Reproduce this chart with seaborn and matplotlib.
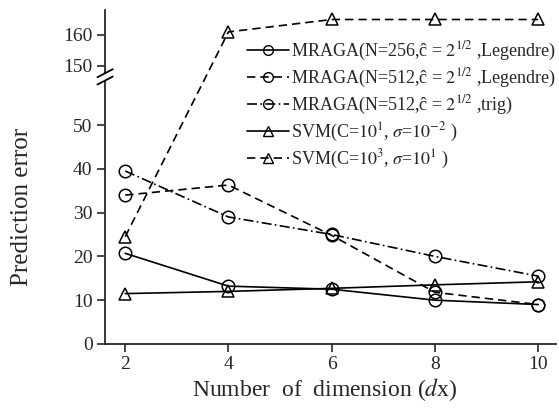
"""Prediction error vs. number of dimension, with a broken y axis."""

import matplotlib

matplotlib.use("Agg")

import matplotlib.pyplot as plt
import numpy as np
import pandas as pd
import seaborn as sns
from matplotlib.lines import Line2D


dimensions = [2, 4, 6, 8, 10]
mraga_256_legendre = [20.7, 13.2, 12.5, 10.0, 9.0]
mraga_512_legendre = [34.0, 36.3, 24.8, 11.8, 9.0]
mraga_512_trig = [39.5, 29.0, 25.0, 20.0, 15.5]
svm_c1 = [11.5, 12.0, 12.7, 13.5, 14.2]
svm_c3 = [24.5, 161.0, 165.0, 165.0, 165.0]

series_labels = [
    r"MRAGA(N=256,ĉ = $2^{1/2}$ ,Legendre)",
    r"MRAGA(N=512,ĉ = $2^{1/2}$ ,Legendre)",
    r"MRAGA(N=512,ĉ = $2^{1/2}$ ,trig)",
    r"SVM(C=$10^{1}$, $\sigma$=$10^{-2}$ )",
    r"SVM(C=$10^{3}$, $\sigma$=$10^{1}$ )",
]
y_ticks = [0, 10, 20, 30, 40, 50, 150, 160]

# broken axis: 0-61 on the lower part, 146.5-168 squeezed on the upper part
LOW_TOP = 61.0
HIGH_BOTTOM = 146.5
UPPER_RATIO = 0.708
GAP = 0.01


def forward(y):
    y = np.asarray(y, dtype=float)
    mid = LOW_TOP + (y - LOW_TOP) * GAP / (HIGH_BOTTOM - LOW_TOP)
    high = LOW_TOP + GAP + (y - HIGH_BOTTOM) * UPPER_RATIO
    return np.where(y <= LOW_TOP, y, np.where(y >= HIGH_BOTTOM, high, mid))


def inverse(t):
    t = np.asarray(t, dtype=float)
    mid = LOW_TOP + (t - LOW_TOP) * (HIGH_BOTTOM - LOW_TOP) / GAP
    high = HIGH_BOTTOM + (t - LOW_TOP - GAP) / UPPER_RATIO
    return np.where(t <= LOW_TOP, t, np.where(t >= LOW_TOP + GAP, high, mid))


sns.set_theme(style="ticks")
plt.rcParams["font.family"] = ["Liberation Serif", "DejaVu Serif"]
plt.rcParams["mathtext.fontset"] = "stix"

fig = plt.figure(figsize=(5.59, 4.08), dpi=100)
ax = fig.add_axes([0.188, 0.157, 0.807, 0.818])
ax.set_yscale("function", functions=(forward, inverse))

styles = [
    ("o", "-"),
    ("o", (0, (5, 3))),
    ("o", (0, (6, 2, 1, 2))),
    ("^", "-"),
    ("^", (0, (5, 3))),
]
all_series = [mraga_256_legendre, mraga_512_legendre, mraga_512_trig, svm_c1, svm_c3]

handles = []
for values, label, (marker, ls) in zip(all_series, series_labels, styles):
    df = pd.DataFrame({"dim": dimensions, "err": values})
    sns.lineplot(
        data=df, x="dim", y="err", ax=ax, color="black", linestyle=ls,
        linewidth=1.2, marker=marker, markersize=9, markerfacecolor="none",
        markeredgecolor="black", markeredgewidth=1.1, clip_on=False,
    )
    handles.append(Line2D([], [], color="black", linestyle=ls, linewidth=1.2,
                          marker=marker, markersize=7, markerfacecolor="none",
                          markeredgecolor="black", markeredgewidth=1.0,
                          label=label))

ax.set_xlim(1.61, 10.35)
ax.set_ylim(0, 168)
ax.set_xticks(dimensions)
ax.set_yticks(y_ticks)
ax.tick_params(direction="out", length=6, width=1.2, labelsize=14, pad=3)
for side in ["top", "right"]:
    ax.spines[side].set_visible(False)
for side in ["left", "bottom"]:
    ax.spines[side].set_linewidth(1.3)

ax.set_xlabel(r"Number  of  dimension ($d$x)", fontsize=17)
ax.set_ylabel("Prediction error", fontsize=18)
ax.xaxis.set_label_coords(0.486, -0.095)
ax.yaxis.set_label_coords(-0.16, 0.41)

# break marks on the y axis
yb = float(forward(LOW_TOP)) / float(forward(168))
ax.add_patch(plt.Rectangle((-0.01, yb - 0.008), 0.02, 0.016, transform=ax.transAxes,
                           facecolor="white", edgecolor="none", clip_on=False, zorder=5))
for off in (-0.011, 0.011):
    ax.plot([-0.017, 0.017], [yb + off - 0.012, yb + off + 0.012], transform=ax.transAxes,
            color="black", linewidth=1.3, clip_on=False, zorder=6)

ax.legend(handles=handles, loc="upper right", bbox_to_anchor=(1.025, 0.945), frameon=False,
          fontsize=13, handlelength=2.3, handletextpad=0.15, labelspacing=0.22,
          borderaxespad=0.2)

fig.savefig("out.png", dpi=100)
